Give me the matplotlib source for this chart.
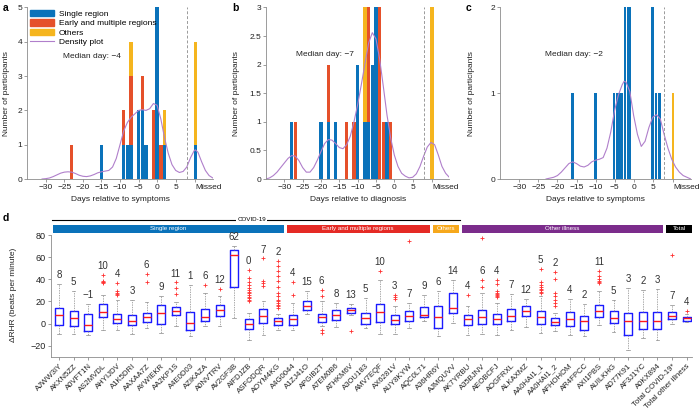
import numpy as np
import matplotlib
matplotlib.use('Agg')
import matplotlib.pyplot as plt
from matplotlib.patches import Patch, Rectangle
from matplotlib.lines import Line2D

plt.rcParams['font.family'] = ['Liberation Sans', 'DejaVu Sans']
plt.rcParams['axes.unicode_minus'] = True

MISSED = 10.3   # x position used for the "Missed" category
CUTOFF = 8.0    # dashed separator

# ---------------- panel a : days relative to symptoms ----------------
a_days   = [-23, -15, -9, -8, -7, -5, -4, -3, -1, 0, 1, 2, MISSED]
a_single = [0, 1, 1, 1, 1, 2, 2, 1, 0, 5, 0, 1, 1]
a_early  = [1, 0, 1, 0, 2, 0, 1, 0, 2, 0, 1, 0, 0]
a_others = [0, 0, 0, 0, 1, 0, 0, 0, 0, 0, 0, 1, 3]
a_dens_x = [-31, -30, -29, -28, -27, -26, -25, -24, -23, -22, -21, -20, -19, -18, -17, -16,
            -15, -14, -13, -12, -11, -10, -9, -8, -7, -6, -5, -4, -3, -2, -1, 0, 1, 2, 3,
            4, 5, 6, 7, 8, 9, 10, 10.3, 11, 12, 13, 14, 15]
a_dens_y = [0.0, 0.01, 0.03, 0.07, 0.12, 0.17, 0.2, 0.21, 0.2, 0.16, 0.11, 0.08, 0.07, 0.09,
            0.13, 0.18, 0.21, 0.23, 0.25, 0.35, 0.6, 1.0, 1.4, 1.65, 1.8, 1.9, 2.0, 2.02,
            2.0, 2.05, 2.2, 2.15, 1.75, 1.2, 0.75, 0.42, 0.25, 0.19, 0.22, 0.35, 0.62, 0.83,
            0.85, 0.78, 0.5, 0.25, 0.1, 0.03]
a_median = -4

# ---------------- panel b : days relative to diagnosis ----------------
b_days   = [-28, -27, -20, -18, -16, -13, -11, -10, -8, -7, -6, -5, -4, -3, -2, -1, MISSED]
b_single = [1, 0, 1, 1, 1, 0, 0, 2, 1, 1, 2, 3, 0, 0, 1, 0, 0]
b_early  = [0, 1, 0, 1, 0, 1, 1, 0, 0, 2, 0, 0, 3, 1, 0, 1, 0]
b_others = [0, 0, 0, 0, 0, 0, 0, 0, 2, 0, 0, 0, 0, 0, 0, 0, 3]
b_dens_x = [-35, -34, -33, -32, -31, -30, -29, -28, -27, -26, -25, -24, -23, -22, -21, -20,
            -19, -18, -17, -16, -15, -14, -13, -12, -11, -10, -9, -8, -7, -6, -5, -4, -3,
            -2, -1, 0, 1, 2, 3, 4, 5, 6, 7, 8, 9, 10, 11, 12, 13, 14, 15]
b_dens_y = [0.0, 0.02, 0.06, 0.12, 0.2, 0.28, 0.36, 0.41, 0.4, 0.32, 0.2, 0.12, 0.12, 0.2,
            0.33, 0.48, 0.62, 0.69, 0.68, 0.62, 0.55, 0.53, 0.6, 0.75, 1.0, 1.3, 1.65, 2.02,
            2.38, 2.56, 2.45, 2.1, 1.62, 1.12, 0.72, 0.42, 0.22, 0.1, 0.05, 0.02, 0.03, 0.09,
            0.22, 0.4, 0.56, 0.64, 0.6, 0.42, 0.22, 0.1, 0.03]
b_median = -7

# ---------------- panel c : days relative to symptoms ----------------
c_days   = [-16, -10, -5.1, -4.4, -3.75, -3.05, -2.25, -1.55, -0.95, 4.9, 5.9, 6.75, MISSED]
c_single = [1, 1, 1, 1, 1, 1, 2, 2, 2, 2, 1, 1, 0]
c_early  = [0] * 13
c_others = [0, 0, 0, 0, 0, 0, 0, 0, 0, 0, 0, 0, 1]
c_dens_x = [-23, -22, -21, -20, -19, -18, -17, -16, -15, -14, -13, -12, -11, -10, -9, -8,
            -7, -6, -5, -4, -3, -2.5, -2, -1, 0, 1, 2, 3, 4, 5, 6, 7, 8, 9, 10, 11, 12, 13,
            14, 15]
c_dens_y = [0.0, 0.01, 0.02, 0.04, 0.08, 0.13, 0.18, 0.2, 0.18, 0.15, 0.14, 0.16, 0.2, 0.22,
            0.23, 0.25, 0.36, 0.55, 0.8, 0.98, 1.1, 1.14, 1.13, 1.02, 0.74, 0.52, 0.38, 0.44,
            0.6, 0.72, 0.75, 0.7, 0.52, 0.36, 0.23, 0.14, 0.08, 0.04, 0.02, 0.0]
c_median = -2

# ---------------- panel d : box plots of delta RHR ----------------
participants = ['AJWW3IY', 'AKXN5ZZ', 'A0VFT1N', 'AS2MVDL', 'AHYIJDV', 'A1K5DRI', 'AAXAA7Z',
                'AYWIEKR', 'AA2KP1S', 'A4E0D03', 'AZIKAZA', 'A0NVTRV', 'AV2GF3B', 'AIFDJZB',
                'ASFODQR', 'AOYM4KG', 'A4G0044', 'A1ZJ41O', 'APGIB2T', 'A7EM0B6', 'ATHKM6V',
                'A3OU183', 'AMV7EQF', 'AX6281V', 'AUY8KYW', 'AQC0L71', 'A36HR6Y', 'AJMQUVV',
                'AK7YRBU', 'A35BJNV', 'AEOBCFJ', 'AOGFRXL', 'ALKAXMZ', 'AA0HAI1_1',
                'AA0HAI1_2', 'AFHOHOM', 'AR4FPCC', 'AXI1PBS', 'AUILKHG', 'AD77K91',
                'AF3J1YC', 'A0KX894', 'Total COVID-19*', 'Total other illness']
box_med = [7.6, 5.1, -0.9, 10.6, 4.5, 2.7, 6.1, 9.4, 11.5, 0.6, 6.1, 12.2, 61.8, -0.3,
           6.7, 2.1, 4.5, 16.3, 5.8, 7.6, 12.7, 5.1, 10.6, 3.0, 6.7, 8.2, 5.8, 14.2,
           4.5, 6.1, 4.5, 6.7, 11.8, 5.8, 1.5, 4.5, 2.1, 11.2, 5.1, 2.7, 2.7, 2.7, 7.3, 5.1]
box_q1 = [-1.5, -1.8, -6.9, 5.8, 0.6, -1.5, 1.5, -0.3, 7.6, -6.0, 2.7, 6.7, 32.9, -4.5,
          0.6, -0.9, -1.5, 12.7, 1.5, 3.6, 9.7, -0.3, 1.5, -0.3, 2.7, 5.8, -3.9, 9.7,
          -1.5, -0.3, -0.3, 2.1, 6.7, 0.0, -1.5, -2.4, -5.4, 5.8, 0.6, -9.9, -4.5, -4.5, 4.5, 2.7]
box_q3 = [14.2, 11.2, 8.8, 17.8, 8.8, 7.6, 9.7, 17.2, 14.8, 10.6, 13.6, 16.6, 66.9, 4.5,
          13.6, 5.1, 8.2, 20.2, 8.8, 12.7, 14.2, 9.7, 17.8, 8.2, 11.2, 15.1, 15.7, 27.7,
          8.2, 12.7, 9.1, 13.6, 15.7, 11.8, 5.1, 10.6, 6.7, 17.2, 11.8, 9.7, 10.6, 10.6, 10.3, 6.1]
box_lo = [-9.3, -9.3, -10.5, -5.4, -5.4, -9.3, -3.9, -8.4, -1.8, -11.0, -2.0, -1.8, 5.1, -14.4,
          -9.9, -5.4, -5.4, 8.8, -2.4, -3.0, 7.6, -3.9, -9.3, -9.3, -3.9, 2.1, -11.4, 0.6,
          -9.9, -9.3, -9.9, -5.4, -3.0, -8.4, -6.9, -10.5, -11.4, -0.9, -7.5, -23.5, -12.9, -14.4, -0.3, 1.2]
box_hi = [35.9, 29.2, 17.8, 26.0, 21.7, 21.7, 19.6, 24.7, 19.6, 34.7, 28.0, 24.7, 69.9, 9.5,
          20.2, 8.8, 18.7, 29.2, 20.2, 18.7, 17.8, 23.2, 39.8, 15.7, 18.7, 26.2, 29.8, 39.8,
          15.7, 27.7, 18.7, 26.8, 22.0, 24.7, 9.7, 22.6, 17.8, 29.8, 21.7, 32.2, 30.7, 31.6, 17.2, 8.8]
box_fliers = [
    [], [], [], [44, 38.5, 38, 37.5, 37], [36.5, 29.5, 28, 27, 26], [], [44.9, 37.7], [],
    [37.2, 32.2, 27], [], [35.3], [31.6], [],
    [48.5, 41.6, 37.4, 35, 32.6, 30.5, 29, 27.5, 26, 24.5, 23, 21.5, 20],
    [58.8, 38.9, 36.8, 34],
    [56.3, 51.8, 47.9, 42.8, 38.3, 32.9, 27.7, 24.7, 21.7, 20, 18.5, 17, 15.5, 14.2],
    [37.7, 26.2], [], [30.7, 24.7, -5.4, -8.4], [], [-6.3], [], [47.9], [25.6, 23.8, 22.3],
    [75.0], [], [], [], [26.2], [77.4, 39.8, 32.9], [39.8, 35.9, 29.2, 28, 27, 26, 25, 24],
    [], [], [49.7, 37.7, 34.7, 33, 31.5, 30, 29, 27.7], [46.7, 40.7, 27.7, 24.7, 21.7, 18.7, 15.7],
    [], [], [47.9, 42.8, 40, 38.5, 37.5, 36.8], [], [], [], [], [61.8], [11.8]]
median_labels = [8, 5, -1, 10, 4, 3, 6, 9, 11, 1, 6, 12, 62, 0, 7, 2, 4, 15, 6, 8, 13, 5, 10,
                 3, 7, 9, 6, 14, 4, 6, 4, 7, 12, 5, 2, 4, 2, 11, 5, 3, 2, 3, 7, 4]
group_names = ['Single region', 'Early and multiple regions', 'Others', 'Other illness', 'Total']
group_sizes = [16, 10, 2, 14, 2]
covid_groups = 3   # first three groups belong to COVID-19

# ---------------- styling ----------------
C_BLUE = '#0a72ba'
C_RED = '#e5502a'
C_YEL = '#f5b51e'
C_DENS = '#b07fcb'
HDR_COLORS = ['#0a72ba', '#e52a25', '#f6a81c', '#7b2c8b', '#000000']
SPINE = '#8c8c8c'
TXT = '#222222'

W, H = 700, 415
fig = plt.figure(figsize=(W / 100, H / 100), dpi=100)


def ax_px(l, t, r, b):
    return fig.add_axes([l / W, 1 - b / H, (r - l) / W, (b - t) / H])


def style(ax, fs=6):
    for s in ['top', 'right']:
        ax.spines[s].set_visible(False)
    for s in ['left', 'bottom']:
        ax.spines[s].set_color(SPINE)
        ax.spines[s].set_linewidth(0.6)
    ax.tick_params(length=2, width=0.6, color=SPINE, labelsize=fs, labelcolor=TXT, pad=1.5)


def fmt(v):
    return str(v).replace('-', '\u2212')


def hist_panel(ax, days, single, early, others, width, dens_x, dens_y, ylim, yticks, ytl,
               xlabel, median, mpos, ylab_x):
    days = np.asarray(days, float)
    s = np.asarray(single, float)
    e = np.asarray(early, float)
    o = np.asarray(others, float)
    ax.bar(days, s, width, color=C_BLUE, linewidth=0)
    ax.bar(days, e, width, bottom=s, color=C_RED, linewidth=0)
    ax.bar(days, o, width, bottom=s + e, color=C_YEL, linewidth=0)
    ax.plot(dens_x, dens_y, color=C_DENS, lw=0.8)
    ax.axvline(CUTOFF, color='#9a9a9a', lw=0.7, ls=(0, (3, 2)))
    ax.set_xlim(-35, 15)
    ax.set_ylim(*ylim)
    ax.set_yticks(yticks)
    ax.set_yticklabels(ytl)
    ticks = [-30, -25, -20, -15, -10, -5, 0, 5, MISSED]
    ax.set_xticks(ticks)
    ax.set_xticklabels([fmt(t) for t in ticks[:-1]] + ['Missed'])
    ax.get_xticklabels()[-1].set_horizontalalignment('left')
    style(ax)
    ax.set_xlabel(xlabel, fontsize=6, color=TXT)
    ax.xaxis.set_label_coords(0.5, -0.10)
    ax.set_ylabel('Number of participants', fontsize=6, color=TXT)
    ax.yaxis.set_label_coords(ylab_x, 0.5)
    ax.text(mpos[0], mpos[1], 'Median day: ' + fmt(median), fontsize=6, color=TXT,
            ha='left', va='center')


axa = ax_px(27.2, 7.5, 212.8, 179)
axb = ax_px(266, 7.5, 449.3, 179)
axc = ax_px(500.3, 7.5, 690.8, 179)
axd = ax_px(50.7, 235, 691.7, 356.9)

hist_panel(axa, a_days, a_single, a_early, a_others, 0.9, a_dens_x, a_dens_y, (0, 5),
           range(6), [str(i) for i in range(6)], 'Days relative to symptoms', a_median,
           (-25.3, 3.58), -0.092)
hist_panel(axb, b_days, b_single, b_early, b_others, 0.9, b_dens_x, b_dens_y, (0, 3),
           [0, 0.5, 1, 1.5, 2, 2.5, 3], ['0', '0.5', '1', '1.5', '2', '2.5', '3'],
           'Days relative to diagnosis', b_median, (-26.9, 2.18), -0.142)
hist_panel(axc, c_days, c_single, c_early, c_others, 0.64, c_dens_x, c_dens_y, (0, 2),
           [0, 1, 2], ['0', '1', '2'], 'Days relative to symptoms', c_median,
           (-23.3, 1.45), -0.133)

leg_handles = [Patch(color=C_BLUE), Patch(color=C_RED), Patch(color=C_YEL),
               Line2D([], [], color=C_DENS, lw=0.8)]
axa.legend(leg_handles, ['Single region', 'Early and multiple regions', 'Others', 'Density plot'],
           loc='upper left', bbox_to_anchor=(0.0, 1.0), frameon=False, fontsize=6,
           handlelength=2.9, handleheight=0.8, labelspacing=0.15, handletextpad=0.6,
           borderaxespad=0.2, borderpad=0.1)

# ---------------- panel d ----------------
n = len(participants)
pos = np.arange(1, n + 1)
stats = []
for i in range(n):
    stats.append(dict(med=box_med[i], q1=box_q1[i], q3=box_q3[i], whislo=box_lo[i],
                      whishi=box_hi[i], fliers=np.asarray(box_fliers[i], float)))
axd.bxp(stats, positions=pos, widths=0.55, capwidths=0.25, manage_ticks=False,
        boxprops=dict(color='#1a1aff', lw=1.0),
        medianprops=dict(color='#ff1a1a', lw=1.0),
        whiskerprops=dict(color='#888888', lw=0.5, ls=(0, (2, 1.5))),
        capprops=dict(color='#888888', lw=0.5),
        flierprops=dict(marker='+', markeredgecolor='#ff3030', markersize=3.2,
                        markeredgewidth=0.6, linestyle='none'))
for i in range(n):
    near = [f for f in box_fliers[i] if f < 60]
    top = max([box_hi[i]] + near)
    axd.text(pos[i], top + 8, fmt(median_labels[i]), ha='center', va='center',
             fontsize=7, color='#333333')

axd.set_xlim(0.43, n + 0.35)
axd.set_ylim(-30, 80)
axd.set_yticks([-20, 0, 20, 40, 60, 80])
axd.set_yticklabels([fmt(v) for v in [-20, 0, 20, 40, 60, 80]])
axd.set_xticks(pos)
axd.set_xticklabels(participants, rotation=45, ha='right', rotation_mode='anchor')
style(axd, fs=6)
axd.tick_params(axis='y', labelsize=6.5)
axd.tick_params(axis='x', labelsize=5.6, pad=2)
axd.set_ylabel('\u0394RHR (beats per minute)', fontsize=6, color=TXT)
axd.yaxis.set_label_coords(-0.053, 0.508)

# group header bars
start = 1
for gi, (name, size) in enumerate(zip(group_names, group_sizes)):
    x0 = start - 0.5 + 0.1
    x1 = start + size - 1 + 0.5 - 0.1
    axd.add_patch(Rectangle((x0, 82.0), x1 - x0, 7.4, facecolor=HDR_COLORS[gi],
                            edgecolor='none', clip_on=False))
    axd.text((x0 + x1) / 2, 85.7, name, color='white', fontsize=4.5, ha='center',
             va='center', clip_on=False)
    start += size
covid_end = 0.5 + sum(group_sizes[:covid_groups])
axd.plot([0.5, covid_end], [93.7, 93.7], color='black', lw=0.8, clip_on=False)
axd.text(14.2, 93.7, 'COVID-19', fontsize=4.5, ha='center', va='center', color='black',
         bbox=dict(facecolor='white', edgecolor='none', pad=0.8), clip_on=False)

# panel letters
for lbl, x, y in [('a', 3, 8), ('b', 232, 8), ('c', 466, 8), ('d', 3, 218)]:
    fig.text(x / W, 1 - y / H, lbl, fontsize=7.5, fontweight='bold', ha='left', va='center')

fig.savefig('out.png', dpi=100)
